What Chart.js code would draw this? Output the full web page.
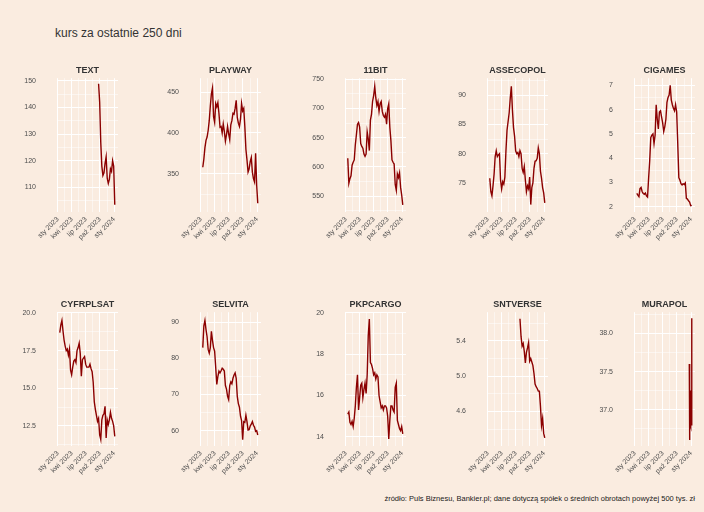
<!DOCTYPE html>
<html>
<head>
<meta charset="utf-8">
<script src="https://cdn.jsdelivr.net/npm/chart.js@4.4.1/dist/chart.umd.min.js"></script>
<style>
 body { margin: 0; background: #FAECE0; }
 #page { position: relative; width: 704px; height: 512px; background: #FAECE0; overflow: hidden;
         font-family: "Liberation Sans", Arial, sans-serif; }
 #title { position: absolute; left: 55px; top: 26px; font-size: 12px; color: #333333; white-space: nowrap; }
 #caption { position: absolute; right: 9px; top: 494px; font-size: 7.5px; color: #1a1a1a; white-space: nowrap; }
 canvas { position: absolute; }
</style>
</head>
<body>
<div id="page">
 <div id="title">kurs za ostatnie 250 dni</div>
 <div id="caption">źródło: Puls Biznesu, Bankier.pl; dane dotyczą spółek o średnich obrotach powyżej 500 tys. zł</div>
</div>
<script>
'use strict';

// days counted from 1 Jan 2023
var weeks = [12,19,26,33,40,47,54,61,68,75,82,89,96,103,110,117,124,131,138,145,152,159,166,173,180,
  187,194,201,208,215,222,229,236,243,250,257,264,271,278,285,292,299,306,313,320,327,334,341,348,355,362,369];
var xTicks = [0, 90, 181, 273, 365];
var xMinor = [45, 135.5, 227, 319];
var xLabels = ['sty 2023', 'kwi 2023', 'lip 2023', 'paź 2023', 'sty 2024'];

var textVals = [148.9, 142, 127, 118, 114.5, 115.5, 119, 121.5, 113.5, 111.5, 113, 117, 116, 120, 118, 103.5];
var playwayVals = [358, 368, 382, 391, 395, 403, 415, 433, 448, 455, 420, 413, 436, 432, 437, 424, 407, 408, 400, 411,
  402, 390, 398, 408, 399, 392, 410, 415, 424, 423, 430, 440, 419, 412, 408, 417, 436, 427, 430, 408,
  380, 367, 352, 356, 365, 370, 352, 344, 340, 375, 336, 314];
var bitVals = [615, 572, 580, 585, 603, 608, 612, 638, 655, 673, 676, 668, 640, 635, 632, 622, 618, 622, 660, 648,
  628, 680, 690, 712, 722, 738, 718, 705, 712, 695, 708, 712, 695, 688, 685, 690, 673, 700, 708, 668,
  645, 612, 608, 605, 570, 560, 588, 582, 590, 565, 552, 535];
var assecoVals = [75.8, 73.5, 72.8, 74.5, 76.5, 79.5, 80.5, 79.5, 79.8, 80.0, 75.5, 74.0, 75.2, 74.8, 76.0, 80.5,
  84.0, 85.5, 87.0, 89.5, 91.5, 87.5, 84.5, 83.0, 80.5, 80.0, 80.2, 79.5, 80.5, 80.0, 77.5, 76.8, 77.8,
  75.5, 73.5, 74.5, 74.0, 76.0, 71.3, 74.2, 75.0, 77.5, 78.7, 78.8, 79.2, 81.0, 80.0, 77.0, 75.8, 74.2, 73.3, 71.6];
var cigamesVals = [2.55, 2.48, 2.42, 2.75, 2.80, 2.62, 2.55, 2.52, 2.57, 2.45, 2.40, 3.20, 3.90, 4.85, 4.95, 5.00,
  4.60, 4.95, 6.20, 5.60, 5.20, 5.90, 5.95, 5.70, 5.45, 5.10, 5.30, 5.60, 6.30, 6.50, 6.60, 7.00, 6.40,
  6.20, 6.05, 5.95, 6.20, 5.90, 4.60, 3.20, 3.10, 2.95, 2.90, 2.95, 2.92, 2.98, 2.35, 2.32, 2.25, 2.20, 2.05, 2.06];
var cyfrVals = [18.7, 19.2, 19.5, 18.8, 18.2, 17.8, 17.5, 17.6, 17.2, 17.6, 16.2, 15.9, 16.4, 16.8, 16.9, 16.7,
  17.5, 17.7, 18.0, 17.3, 15.8, 16.9, 17.0, 17.1, 16.6, 16.4, 16.4, 16.4, 16.6, 16.3, 16.1, 15.4, 14.1,
  13.6, 13.2, 12.8, 13.0, 11.9, 11.6, 12.9, 13.2, 13.3, 13.8, 11.7, 12.9, 12.6, 12.9, 13.4, 13.0, 12.8, 12.5, 11.8];
var selvitaVals = [83, 89, 90.5, 88, 86, 82.5, 81.5, 83, 87.5, 85, 83, 82, 77.5, 72.8, 75, 76.5, 76, 76.6, 77.3, 77,
  76.5, 72.5, 71.5, 69.5, 68.6, 72.5, 73.5, 73, 74.5, 75.4, 76, 74.5, 69.5, 67.5, 66.5, 64, 62.8, 57.5,
  62.5, 62.3, 64.3, 62.5, 60.2, 60.3, 61.3, 61.8, 62.5, 61.5, 61.0, 59.8, 60.0, 58.8];
var pkpVals = [15.1, 15.2, 14.7, 14.6, 14.75, 14.5, 14.9, 15.5, 16.4, 17.0, 15.3, 15.9, 16.5, 16.6, 15.9, 16.3,
  16.6, 16.1, 17.0, 18.9, 19.7, 17.6, 17.5, 17.3, 17.0, 17.1, 16.8, 17.0, 16.9, 16.0, 15.7, 15.4, 15.5,
  15.3, 15.5, 15.5, 15.4, 15.0, 13.9, 14.8, 15.5, 15.5, 15.3, 15.2, 16.4, 16.6, 14.8, 14.6, 14.4, 14.3, 14.5, 14.15];
var sntVals = [5.65, 5.45, 5.34, 5.37, 5.28, 5.15, 5.27, 5.32, 5.38, 5.17, 5.2, 5.16, 5.12, 5.03, 4.91, 4.88,
  4.86, 4.83, 4.83, 4.66, 4.44, 4.52, 4.35, 4.30];
var murapolDays = [353, 354, 355, 356, 357, 360, 361, 362, 363, 364, 367, 368, 369, 370];
var murapolVals = [37.6, 36.6, 37.0, 37.5, 36.75, 36.8, 37.25, 36.78, 36.8, 37.2, 36.8, 36.85, 37.2, 38.2];

var names = ['TEXT', 'PLAYWAY', '11BIT', 'ASSECOPOL', 'CIGAMES', 'CYFRPLSAT', 'SELVITA', 'PKPCARGO', 'SNTVERSE', 'MURAPOL'];
var series = [textVals, playwayVals, bitVals, assecoVals, cigamesVals, cyfrVals, selvitaVals, pkpVals, sntVals, murapolVals];
var yLimits = [[100.7, 151], [303, 467], [522.6, 751.8], [70.0, 92.9], [1.78, 7.29],
  [11.15, 20.05], [55.7, 92.8], [13.55, 20.03], [4.205, 5.725], [36.52, 38.28]];
var yTicks = [[110, 120, 130, 140, 150], [350, 400, 450], [550, 600, 650, 700, 750], [75, 80, 85, 90], [2, 3, 4, 5, 6, 7],
  [12.5, 15, 17.5, 20], [60, 70, 80, 90], [14, 16, 18, 20], [4.6, 5.0, 5.4], [37.0, 37.5, 38.0]];
var yDecimals = [0, 0, 0, 0, 0, 1, 0, 0, 1, 1];

var colLeft = [57, 200, 345, 487, 634];
var rowTop = [78, 312];
var PW = 61, PH = 134, AXW = 50, AXH = 45, PADT = 20, PADR = 6;
var FONT = '"Liberation Sans", Arial, sans-serif';

Chart.defaults.font.family = FONT;

var stripTitle = {
  id: 'stripTitle',
  afterDraw: function (chart, args, opts) {
    var a = chart.chartArea, c = chart.ctx;
    c.save();
    c.font = 'bold 9px ' + FONT;
    c.fillStyle = '#333333';
    c.textAlign = 'center';
    c.textBaseline = 'middle';
    c.fillText(opts.text, (a.left + a.right) / 2, a.top - 7.5);
    c.restore();
  }
};

function gridWidth(ctx) {
  return ctx.tick && ctx.tick.major ? 1 : 0.5;
}

function withMinor(majors, lim) {
  var step = majors[1] - majors[0];
  var out = majors.map(function (v) { return { value: v, major: true }; });
  majors.concat([majors[majors.length - 1] + step]).forEach(function (v) {
    var m = v - step / 2;
    if (m > lim[0] && m < lim[1]) out.push({ value: m, major: false });
  });
  return out.sort(function (a, b) { return a.value - b.value; });
}

var page = document.getElementById('page');

names.forEach(function (name, i) {
  var col = i % 5, row = Math.floor(i / 5);
  var vals = series[i];
  var days = name === 'MURAPOL' ? murapolDays : weeks.slice(weeks.length - vals.length);
  var points = vals.map(function (v, k) { return { x: days[k], y: v }; });
  var lim = yLimits[i];

  var canvas = document.createElement('canvas');
  var w = AXW + PW + PADR, h = PADT + PH + AXH;
  canvas.width = w;
  canvas.height = h;
  page.appendChild(canvas);

  var chart = new Chart(canvas, {
    type: 'line',
    data: { datasets: [{ data: points, borderColor: '#8B0000', borderWidth: 1.4, pointRadius: 0, tension: 0, fill: false }] },
    options: {
      responsive: false,
      maintainAspectRatio: false,
      animation: false,
      layout: { padding: { top: PADT, right: PADR, left: 0, bottom: 0 } },
      plugins: { legend: { display: false }, tooltip: { enabled: false }, stripTitle: { text: name } },
      scales: {
        x: {
          type: 'linear', min: -6, max: 390,
          afterBuildTicks: function (s) {
            s.ticks = xTicks.map(function (v) { return { value: v, major: true }; })
              .concat(xMinor.map(function (v) { return { value: v, major: false }; }))
              .sort(function (a, b) { return a.value - b.value; });
          },
          afterFit: function (s) { s.height = AXH; },
          ticks: {
            autoSkip: false, maxRotation: 45, minRotation: 45, padding: 3,
            color: '#4d4d4d', font: { size: 7 },
            callback: function (v) { var k = xTicks.indexOf(v); return k < 0 ? '' : xLabels[k]; }
          },
          grid: { color: '#ffffff', lineWidth: gridWidth, drawTicks: false },
          border: { display: false }
        },
        y: {
          type: 'linear', min: lim[0], max: lim[1],
          afterBuildTicks: function (s) { s.ticks = withMinor(yTicks[i], lim); },
          afterFit: function (s) { s.width = AXW; },
          ticks: {
            padding: 21, color: '#4d4d4d', font: { size: 7 },
            callback: function (v, k, t) { return t[k].major ? v.toFixed(yDecimals[i]) : ''; }
          },
          grid: { color: '#ffffff', lineWidth: gridWidth, drawTicks: false },
          border: { display: false }
        }
      }
    },
    plugins: [stripTitle]
  });

  var ca = chart.chartArea;
  var dw = PW - (ca.right - ca.left), dh = PH - (ca.bottom - ca.top);
  if (Math.abs(dw) > 0.1 || Math.abs(dh) > 0.1) {
    chart.resize(w + dw, h + dh);
    ca = chart.chartArea;
  }
  canvas.style.left = (colLeft[col] - ca.left) + 'px';
  canvas.style.top = (rowTop[row] - ca.top) + 'px';
});
</script>
</body>
</html>
